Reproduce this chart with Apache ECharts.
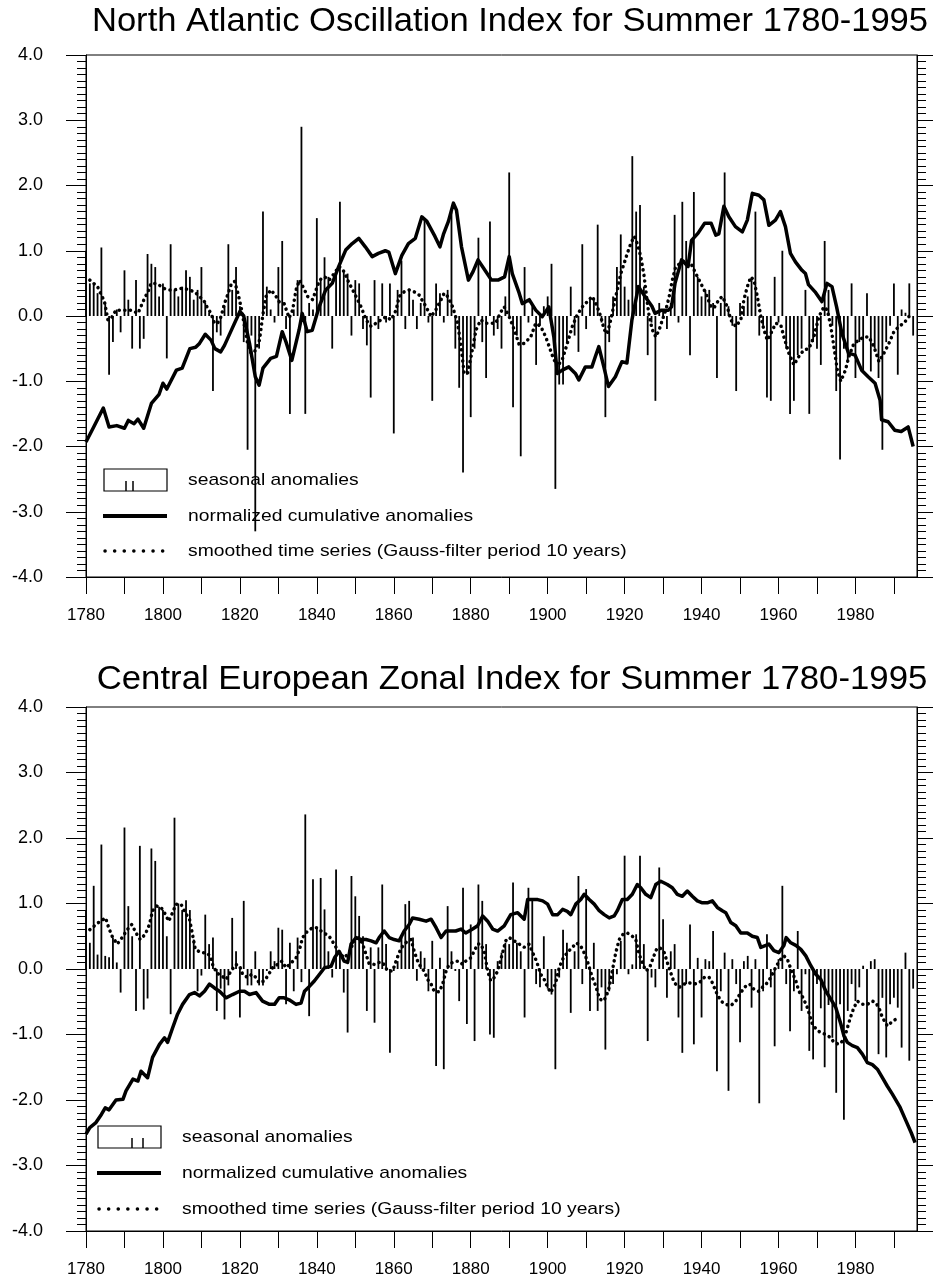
<!DOCTYPE html>
<html>
<head>
<meta charset="utf-8">
<script src="https://cdn.jsdelivr.net/npm/echarts@6/dist/echarts.min.js"></script>
<style>
  html, body { margin: 0; padding: 0; background: #fff; }
  #chart { width: 933px; height: 1286px; }
</style>
</head>
<body>
<div id="chart"></div>
<script>
// ---- data ----
var startYear = 1780
var xTickYears = [1780, 1790, 1800, 1810, 1820, 1830, 1840, 1850, 1860, 1870, 1880, 1890, 1900, 1910, 1920, 1930, 1940, 1950, 1960, 1970, 1980, 1990]
var xLabelYears = [1780, 1800, 1820, 1840, 1860, 1880, 1900, 1920, 1940, 1960, 1980]

// North Atlantic Oscillation, seasonal anomalies 1780..1995
var naoBars = [
  1.0, 0.5, 0.5, 0.35, 1.05, 0.2, -0.9, -0.4, 0.1, -0.25,
  0.7, 0.25, -0.5, 0.55, -0.5, -0.35, 0.95, 0.8, 0.75, 0.3,
  0.5, -0.65, 1.1, 0.4, 0.3, 0.45, 0.7, 0.6, 0.25, 0.4,
  0.75, 0.2, 0.05, -1.15, -0.25, -0.3, 0.15, 1.1, 0.4, 0.75,
  0.15, -0.4, -2.05, -0.3, -3.3, -0.5, 1.6, 0.45, 0.1, -0.1,
  0.75, 1.15, -0.2, -1.5, 0.1, 0.55, 2.9, -1.5, 0.2, 0.1,
  1.5, 0.55, 0.9, 0.6, -0.5, 0.7, 1.75, 0.7, 0.65, -0.3,
  0.55, 0.5, -0.2, -0.45, -1.25, 0.55, -0.2, 0.5, -0.1, 0.5,
  -1.8, 0.4, 0.85, -0.2, 0.4, 0.25, -0.2, 0.2, 1.5, -0.1,
  -1.3, 0.5, 0.35, -0.1, 0.4, 1.6, -0.5, -1.1, -2.4, -0.9,
  -1.55, -0.5, 1.2, -0.4, -0.95, 1.45, -0.3, -0.2, -0.5, 0.3,
  2.2, -1.4, -0.3, -2.15, 0.75, -0.1, 0.15, -0.75, -0.15, 0.15,
  0.3, 0.8, -2.65, -1.05, -1.05, -0.4, 0.45, -0.3, -0.55, 1.1,
  -0.2, 0.25, 0.25, 1.4, -0.1, -1.55, -0.4, 0.3, 0.75, 1.25,
  0.45, 0.25, 2.45, 1.6, 1.7, 0.45, -0.6, -0.1, -1.3, 0.2,
  0.1, -0.2, 0.2, 1.55, -0.1, 1.75, 1.15, -0.6, 1.9, 0.6,
  0.3, 0.4, 0.4, 0.2, -0.95, 0.2, 2.2, 0.15, -0.15, -1.15,
  0.2, 0.15, 0.3, 0.55, 1.6, -0.3, -0.15, -1.25, -1.3, 0.6,
  -0.1, 1.0, -0.5, -1.5, -1.3, -0.6, -0.5, 0.4, -1.5, -0.4,
  -0.5, -0.75, 1.15, 0.4, -0.15, -1.15, -2.2, -0.5, -0.7, 0.5,
  -0.95, -0.4, -0.85, 0.35, -0.85, -0.5, -0.95, -2.05, -0.4, -0.15,
  0.5, -0.9, 0.1, 0.05, 0.5, -0.3
]

// NAO normalized cumulative anomalies [year, value]
var naoCumulative = [
  [1780,-1.93],[1782,-1.7],[1784.5,-1.41],[1786,-1.7],[1788,-1.68],[1790,-1.72],[1791,-1.6],[1792.5,-1.65],
  [1793.5,-1.58],[1795,-1.72],[1797,-1.34],[1799,-1.2],[1800,-1.03],[1801,-1.12],[1803.5,-0.83],[1805,-0.8],
  [1807,-0.5],[1808.5,-0.48],[1809.5,-0.42],[1811,-0.28],[1812.5,-0.37],[1813.5,-0.5],[1815,-0.55],[1816,-0.45],
  [1818,-0.19],[1820,0.07],[1821,0.0],[1822.5,-0.42],[1824,-0.93],[1825,-1.06],[1826,-0.8],[1828,-0.65],
  [1829.5,-0.62],[1831,-0.24],[1832,-0.4],[1833.5,-0.68],[1835.4,-0.21],[1836.2,0.04],[1837.5,-0.24],[1838.8,-0.22],
  [1840.6,0.14],[1842.3,0.4],[1844,0.5],[1845.7,0.76],[1847.5,1.01],[1849.2,1.11],[1850.9,1.19],[1852.6,1.06],
  [1854.4,0.91],[1856,0.96],[1857.8,1.0],[1858.7,0.98],[1860.4,0.65],[1862.1,0.93],[1863.8,1.11],[1865.6,1.19],
  [1867.3,1.52],[1868.6,1.45],[1870.7,1.22],[1872,1.06],[1872.9,1.25],[1874.2,1.45],[1875.5,1.73],[1876.3,1.62],
  [1877.6,1.06],[1879.4,0.55],[1880.6,0.68],[1881.9,0.86],[1883.7,0.7],[1885.4,0.55],[1887.1,0.55],[1888.8,0.6],
  [1890,0.91],[1890.8,0.65],[1892.6,0.35],[1893.4,0.19],[1895.2,0.25],[1896.9,0.09],[1898.6,-0.01],[1900.3,0.14],
  [1901.6,-0.32],[1902.5,-0.88],[1903.8,-0.83],[1905.5,-0.78],[1907.2,-0.88],[1908.1,-0.98],[1909.8,-0.78],[1911.5,-0.78],
  [1912.4,-0.62],[1913.3,-0.47],[1914.6,-0.78],[1915.8,-1.08],[1917.6,-0.93],[1919.3,-0.7],[1920.6,-0.72],[1921.9,-0.06],
  [1923.6,0.45],[1925.3,0.3],[1927.1,0.15],[1927.9,0.04],[1929.6,0.09],[1931.4,0.09],[1932.2,0.14],[1933.1,0.5],
  [1934.8,0.86],[1936.5,0.76],[1937.4,1.16],[1939.1,1.27],[1940.8,1.42],[1942.5,1.42],[1943.7,1.24],[1944.5,1.26],
  [1945.8,1.68],[1947.1,1.52],[1948.8,1.37],[1950.6,1.29],[1951.9,1.47],[1953.2,1.88],[1954.9,1.85],[1956.2,1.78],
  [1957.5,1.39],[1959.2,1.47],[1960.5,1.6],[1961.8,1.37],[1963.1,0.96],[1964.4,0.83],[1966.1,0.7],[1967,0.65],
  [1967.8,0.48],[1969.5,0.37],[1971.3,0.22],[1972.6,0.5],[1973.9,0.45],[1975.1,0.14],[1976.5,-0.27],[1978.2,-0.57],
  [1979.9,-0.6],[1981.6,-0.83],[1983.3,-0.93],[1985.1,-1.03],[1986.4,-1.29],[1986.8,-1.59],[1988.5,-1.62],[1990.2,-1.75],
  [1991.9,-1.77],[1993.7,-1.7],[1995,-2.0]
]

// NAO smoothed series (Gauss filter, 10 years) [year, value]
var naoSmoothed = [
  [1781,0.55],[1783,0.45],[1784.8,0.22],[1785.7,-0.06],[1786.5,-0.04],[1787.8,0.09],[1789.1,0.09],[1790.4,0.09],
  [1791.7,0.09],[1793.5,0.04],[1795.2,0.27],[1796.1,0.37],[1796.9,0.5],[1798.2,0.5],[1799.1,0.47],[1800.4,0.42],
  [1801.7,0.4],[1803,0.4],[1804.3,0.42],[1805.6,0.42],[1806.9,0.4],[1808.2,0.37],[1809.5,0.3],[1810.8,0.22],
  [1811.6,0.12],[1812.5,0.04],[1813.4,-0.11],[1814.2,-0.11],[1815.1,-0.01],[1816,0.19],[1816.8,0.32],[1817.7,0.48],
  [1818.6,0.53],[1819.4,0.37],[1820.3,0.14],[1821.2,-0.16],[1822,-0.42],[1822.9,-0.57],[1823.8,-0.55],[1825.1,-0.37],
  [1825.9,-0.01],[1826.8,0.3],[1828.1,0.4],[1829.4,0.3],[1830.2,0.22],[1831.5,0.19],[1832.8,-0.03],[1833.7,0.09],
  [1834.6,0.4],[1835.5,0.55],[1836.8,0.4],[1837.6,0.3],[1838.9,0.25],[1839.8,0.4],[1840.7,0.55],[1842,0.6],
  [1843.2,0.55],[1844.5,0.65],[1845.8,0.76],[1847.1,0.68],[1848,0.55],[1849.3,0.4],[1850.6,0.25],[1851.5,0.14],
  [1852.8,-0.06],[1854.1,-0.16],[1855.4,-0.11],[1856.7,-0.06],[1858,-0.01],[1859.3,-0.06],[1860.6,0.09],[1861.4,0.3],
  [1862.7,0.37],[1864,0.4],[1865.3,0.37],[1866.6,0.32],[1868.4,0.14],[1869.7,-0.01],[1870.9,0.09],[1872.3,0.25],
  [1873.1,0.35],[1874,0.3],[1875.3,0.14],[1876.6,-0.11],[1877.5,-0.47],[1878.3,-0.88],[1879.2,-0.88],[1880.1,-0.62],
  [1881.4,-0.21],[1882.6,-0.06],[1883.9,-0.11],[1885.2,-0.11],[1886.5,-0.11],[1887.8,0.06],[1888.7,0.14],[1890,-0.01],
  [1891.3,-0.21],[1892.6,-0.44],[1893.9,-0.42],[1895.6,-0.32],[1896.9,-0.11],[1898.2,-0.16],[1899.5,-0.32],[1900.4,-0.47],
  [1901.3,-0.62],[1902.5,-0.78],[1903.9,-0.65],[1905.1,-0.42],[1906.4,-0.16],[1907.7,0.02],[1909,0.14],[1910.3,0.22],
  [1911.6,0.3],[1912.9,0.14],[1913.8,-0.01],[1914.7,-0.21],[1915.5,-0.27],[1916.4,-0.06],[1917.3,0.19],[1918.1,0.4],
  [1919,0.65],[1919.9,0.81],[1920.7,0.96],[1921.6,1.11],[1922.5,1.22],[1923.3,1.11],[1924.2,0.91],[1925.1,0.6],
  [1925.8,0.25],[1926.4,-0.01],[1927.2,-0.21],[1928.1,-0.32],[1929,-0.21],[1929.8,-0.06],[1930.7,0.09],[1931.6,0.3],
  [1932.4,0.55],[1933.3,0.76],[1934.6,0.81],[1935.9,0.86],[1937.2,0.81],[1938.5,0.65],[1939.8,0.5],[1941.1,0.35],
  [1942.4,0.15],[1943.2,0.12],[1944.5,0.25],[1945.4,0.3],[1946.7,0.14],[1947.6,-0.06],[1948.9,-0.16],[1950.2,-0.06],
  [1951,0.25],[1951.9,0.45],[1952.8,0.6],[1953.6,0.55],[1954.5,0.3],[1955.4,-0.01],[1956.2,-0.21],[1957.1,-0.37],
  [1958,-0.27],[1959.3,-0.11],[1960.6,-0.14],[1961.4,-0.32],[1962.7,-0.57],[1964,-0.75],[1965.3,-0.62],[1966.6,-0.52],
  [1967.9,-0.5],[1969.2,-0.32],[1970.5,-0.01],[1971.8,0.14],[1972.7,0.09],[1973.6,-0.16],[1974.4,-0.47],[1975.3,-0.83],
  [1976.2,-1.0],[1977.4,-0.83],[1978.3,-0.62],[1979.6,-0.42],[1980.9,-0.37],[1982.2,-0.32],[1983.5,-0.32],[1984.8,-0.47],
  [1986.1,-0.7],[1987.4,-0.57],[1988.7,-0.42],[1990,-0.24],[1991.3,-0.16],[1992.6,-0.11],[1993.9,-0.01]
]

// Central European Zonal Index, seasonal anomalies 1780..1995
var ceziBars = [
  0.9, 0.4, 1.27, 0.22, 1.9, 0.2, 0.18, 0.48, 0.1, -0.36,
  2.16, 0.96, 0.5, -0.64, 1.88, -0.62, -0.45, 1.84, 1.65, 0.95,
  0.9, 0.5, -0.69, 2.31, 1.0, 0.9, 1.05, 0.9, 0.45, -0.34,
  -0.1, 0.83, 0.38, 0.48, -0.64, -0.3, -0.77, -0.25, 0.78, 0.27,
  -0.74, 1.04, -0.25, -0.25, 0.27, -0.25, -0.25, -0.03, 0.27, 0.12,
  0.63, 0.6, -0.54, 0.4, -0.34, 0.48, -0.2, 2.36, -0.72, 1.37,
  0.63, 1.39, 0.91, 0.27, -0.13, 1.52, 0.27, -0.36, -0.97, 1.42,
  1.11, 0.81, 0.5, -0.64, 0.33, -0.82, 0.33, 1.29, 0.38, -1.28,
  -0.03, 0.12, 0.48, 0.99, 1.04, 0.48, -0.18, 0.27, 0.17, -0.34,
  0.43, -1.48, 0.17, -1.53, 0.96, 0.27, -0.03, -0.49, 1.24, -0.84,
  0.68, -1.1, 1.29, 1.04, 0.38, -1.0, -1.05, 0.12, 0.25, 0.4,
  0.38, 1.32, 0.4, 0.27, -0.74, 1.24, 1.04, -0.23, -0.28, 0.5,
  -0.3, -0.39, -1.53, -0.13, 0.6, 0.4, -0.67, 0.27, 1.42, -0.23,
  1.22, -0.64, 0.4, -0.64, -0.28, -1.23, -0.34, -0.23, -0.08, 0.43,
  1.73, -0.08, 0.07, 0.53, 1.73, 0.38, -1.1, -0.13, -0.28, 1.55,
  0.76, -0.44, 0.27, 0.38, -0.74, -1.28, -0.23, 0.68, -1.15, 0.17,
  -0.74, 0.15, 0.12, 0.58, -1.56, -0.34, 0.25, -1.86, 0.15, -0.23,
  -1.12, 0.12, 0.2, -0.59, 0.15, -2.05, -0.34, 0.53, -0.28, -1.18,
  0.15, 1.27, -0.23, -0.95, -0.34, 0.58, -0.64, -0.08, -1.25, -1.38,
  -0.23, -0.6, -1.5, -0.55, -1.05, -1.89, -0.54, -2.3, -0.64, -0.23,
  -0.49, -0.28, 0.05, -1.4, 0.12, 0.15, -1.3, -0.44, -1.35, -0.54,
  -0.44, -0.59, -1.2, 0.25, -1.4, -0.3
]

// CEZI normalized cumulative anomalies [year, value]
var ceziCumulative = [
  [1780,-2.52],[1781,-2.42],[1782.5,-2.35],[1784,-2.22],[1785,-2.12],[1786,-2.15],[1787.8,-2.0],[1789.6,-1.99],
  [1790.4,-1.86],[1792.2,-1.68],[1793.5,-1.71],[1794.3,-1.56],[1796,-1.66],[1797.3,-1.35],[1799.1,-1.15],[1800.4,-1.05],
  [1801.2,-1.12],[1802.5,-0.9],[1803.8,-0.69],[1805.1,-0.54],[1806.9,-0.39],[1808.2,-0.36],[1809.5,-0.41],[1810.8,-0.34],
  [1812.1,-0.23],[1813.4,-0.29],[1814.7,-0.34],[1816.4,-0.44],[1818.1,-0.39],[1819.9,-0.34],[1821.2,-0.34],[1822.5,-0.39],
  [1824.2,-0.36],[1825.9,-0.49],[1827.7,-0.54],[1829,-0.54],[1830.2,-0.44],[1831.5,-0.44],[1832.8,-0.47],[1834.6,-0.54],
  [1835.9,-0.52],[1836.8,-0.34],[1838,-0.27],[1839.4,-0.18],[1840.7,-0.08],[1842,0.02],[1843.7,0.04],[1844.6,0.17],
  [1845.8,0.27],[1847.1,0.12],[1848,0.1],[1848.9,0.38],[1850.2,0.48],[1851.5,0.45],[1852.8,0.45],[1854.1,0.43],
  [1855.4,0.4],[1856.2,0.48],[1857.5,0.58],[1858.8,0.48],[1860.1,0.45],[1861.4,0.43],[1862.7,0.58],[1864,0.68],
  [1864.9,0.78],[1866.6,0.76],[1868.4,0.73],[1869.7,0.76],[1871,0.63],[1872.3,0.48],[1873.6,0.58],[1874.9,0.58],
  [1876.1,0.58],[1877.5,0.61],[1878.7,0.55],[1880.5,0.61],[1881.8,0.66],[1883.1,0.81],[1884.4,0.73],[1885.7,0.61],
  [1887,0.58],[1888.7,0.66],[1890.4,0.83],[1892.2,0.86],[1893.9,0.76],[1894.8,1.06],[1896.1,1.06],[1897.4,1.06],
  [1898.7,1.04],[1900,0.99],[1901.3,0.83],[1902.6,0.83],[1903.9,0.91],[1905.1,0.88],[1906,0.83],[1907.3,0.99],
  [1908.6,1.06],[1909.5,1.14],[1910.8,1.06],[1912.1,0.99],[1913.4,0.89],[1914.7,0.83],[1916,0.78],[1917.3,0.81],
  [1918.1,0.89],[1919.4,1.06],[1920.7,1.06],[1922,1.14],[1923.3,1.29],[1924.2,1.24],[1925.5,1.14],[1926.8,1.09],
  [1928.1,1.29],[1929.4,1.34],[1931.1,1.29],[1932.4,1.24],[1933.7,1.14],[1935,1.11],[1936.3,1.19],[1937.6,1.11],
  [1938.9,1.04],[1940.2,1.01],[1941.5,1.01],[1942.8,1.04],[1944.1,0.94],[1945.4,0.89],[1946.3,0.86],[1947.6,0.71],
  [1948.9,0.66],[1950.2,0.55],[1951.9,0.55],[1953.2,0.5],[1954.5,0.48],[1955.4,0.33],[1956.7,0.36],[1957.5,0.38],
  [1958.8,0.28],[1960.1,0.25],[1961.4,0.36],[1962,0.48],[1963.2,0.4],[1964.5,0.36],[1965.8,0.3],[1967.1,0.2],
  [1968.4,0.05],[1969.7,-0.08],[1971,-0.16],[1972.3,-0.34],[1973.6,-0.46],[1974.9,-0.59],[1976.2,-0.84],[1977,-1.02],
  [1977.9,-1.12],[1979.2,-1.17],[1980.5,-1.2],[1981.8,-1.3],[1983.1,-1.43],[1984.4,-1.46],[1985.7,-1.53],[1987,-1.66],
  [1988.3,-1.79],[1989.6,-1.91],[1990.4,-1.99],[1991.5,-2.1],[1993,-2.3],[1994.5,-2.5],[1995.5,-2.65]
]

// CEZI smoothed series (Gauss filter, 10 years) [year, value]
var ceziSmoothed = [
  [1781,0.6],[1783,0.7],[1785.1,0.78],[1785.9,0.63],[1786.8,0.5],[1788.1,0.38],[1789.4,0.48],[1790.7,0.6],
  [1791.9,0.68],[1793,0.55],[1794.1,0.45],[1795.4,0.53],[1796.5,0.68],[1797.3,0.89],[1798.4,0.96],[1799.5,0.94],
  [1800.4,0.86],[1801.5,0.73],[1802.5,0.86],[1803.4,0.99],[1804.7,0.99],[1805.8,0.86],[1806.9,0.76],[1807.6,0.55],
  [1808.4,0.3],[1809.9,0.25],[1811.2,0.25],[1812.3,0.2],[1812.9,0.07],[1814,-0.06],[1815.4,-0.11],[1816.4,-0.16],
  [1817.7,-0.03],[1819,0.07],[1819.9,0.05],[1820.7,-0.08],[1822,-0.13],[1823.1,-0.08],[1824.2,-0.13],[1825,-0.21],
  [1826.4,-0.18],[1827.5,-0.08],[1828.5,0.02],[1829.8,0.07],[1830.9,0.12],[1832,0.02],[1833.3,0.09],[1834.6,0.17],
  [1835.5,0.3],[1836.3,0.48],[1837.6,0.58],[1838.9,0.63],[1840,0.63],[1841.1,0.58],[1842.4,0.53],[1843.2,0.5],
  [1844.5,0.38],[1845.8,0.25],[1847.1,0.17],[1848.4,0.25],[1849.7,0.43],[1851,0.48],[1851.9,0.38],[1852.8,0.22],
  [1853.6,0.08],[1854.9,0.07],[1855.8,0.1],[1857.1,0.1],[1858.4,-0.03],[1859.7,-0.03],[1860.6,0.12],[1861.4,0.25],
  [1862.3,0.35],[1863.6,0.43],[1864.5,0.45],[1865.3,0.27],[1866.2,0.12],[1867.1,0.02],[1867.9,-0.03],[1868.8,-0.16],
  [1869.7,-0.23],[1870.5,-0.34],[1871.8,-0.35],[1872.7,-0.23],[1873.6,-0.03],[1874.4,0.07],[1875.3,0.1],[1876.2,0.12],
  [1877,0.12],[1877.9,0.07],[1878.7,0.12],[1880,0.17],[1880.9,0.27],[1881.8,0.38],[1882.6,0.38],[1883.5,0.27],
  [1884.4,-0.03],[1885.2,-0.18],[1886.1,-0.13],[1887,-0.03],[1888.3,0.25],[1889.1,0.43],[1890,0.48],[1891.3,0.43],
  [1892.6,0.38],[1893.9,0.33],[1895.2,0.38],[1896.1,0.25],[1897.1,0.12],[1898.2,-0.08],[1899.1,-0.16],[1900,-0.28],
  [1900.8,-0.36],[1902,-0.23],[1903,0.02],[1903.9,0.15],[1905.1,0.25],[1906.4,0.33],[1907.5,0.4],[1908.6,0.35],
  [1909.7,0.22],[1910.6,0.07],[1911.6,-0.13],[1912.5,-0.26],[1913.4,-0.44],[1914.2,-0.49],[1915.1,-0.44],[1916,-0.28],
  [1916.8,-0.03],[1917.7,0.25],[1918.6,0.45],[1919.6,0.53],[1920.7,0.55],[1922,0.5],[1922.9,0.45],[1923.8,0.22],
  [1924.6,0.1],[1925.5,-0.03],[1926.5,0.02],[1927.4,0.17],[1928.3,0.3],[1929.1,0.33],[1930.3,0.25],[1931.1,0.1],
  [1932,-0.06],[1932.9,-0.21],[1934.2,-0.28],[1935.5,-0.23],[1936.7,-0.21],[1938.1,-0.23],[1939.4,-0.21],[1940.7,-0.13],
  [1941.9,-0.12],[1942.8,-0.21],[1943.7,-0.34],[1945,-0.49],[1946.3,-0.54],[1947.6,-0.56],[1948.9,-0.49],[1950.2,-0.36],
  [1951.5,-0.26],[1952.5,-0.23],[1953.6,-0.31],[1954.8,-0.34],[1955.8,-0.28],[1956.8,-0.23],[1958,-0.13],[1958.8,-0.03],
  [1959.7,0.07],[1960.6,0.15],[1961.4,0.2],[1962.3,0.15],[1963.4,-0.03],[1964.5,-0.18],[1965.3,-0.34],[1966.4,-0.44],
  [1967.5,-0.59],[1968.8,-0.84],[1970.1,-0.94],[1971,-0.97],[1972.3,-1.0],[1973.6,-1.05],[1974.4,-1.12],[1975.7,-1.15],
  [1977,-1.08],[1977.9,-0.9],[1978.7,-0.74],[1979.6,-0.59],[1980.5,-0.49],[1981.8,-0.54],[1983.1,-0.54],[1984.4,-0.49],
  [1985.2,-0.51],[1986.1,-0.59],[1987,-0.74],[1988.3,-0.87],[1989.6,-0.8],[1990.4,-0.77]
]

var titles = [
  'North Atlantic Oscillation Index for Summer 1780-1995',
  'Central European Zonal Index for Summer 1780-1995'
]
var legendTexts = [
  'seasonal anomalies',
  'normalized cumulative anomalies',
  'smoothed time series (Gauss-filter period 10 years)'
]

// ---- chart ----
var FONT = '"Liberation Sans", Arial, Helvetica, sans-serif'

function toPairs(values) {
  return values.map(function (v, i) { return [startYear + i, v] })
}

function makeXAxis(idx) {
  return {
    type: 'value', gridIndex: idx, min: 1780, max: 1996,
    axisLine: { show: true, onZero: false, lineStyle: { color: '#000', width: 1 } },
    axisTick: { show: true, length: 17, customValues: xTickYears, lineStyle: { color: '#000', width: 1 } },
    axisLabel: {
      customValues: xLabelYears, margin: 30, color: '#000', fontFamily: FONT, fontSize: 17,
      formatter: function (v) { return String(v) }
    },
    splitLine: { show: false }
  }
}

function makeYAxis(idx, side) {
  return {
    type: 'value', gridIndex: idx, position: side, min: -4, max: 4, interval: 1,
    axisLine: { show: true, onZero: false, lineStyle: { color: '#000', width: 1 } },
    axisTick: { show: true, length: side === 'left' ? 20 : 16, lineStyle: { color: '#000', width: 1 } },
    minorTick: { show: true, splitNumber: 10, length: 9, lineStyle: { color: '#000', width: 1 } },
    axisLabel: {
      show: side === 'left', margin: 43, color: '#000', fontFamily: FONT, fontSize: 18,
      formatter: function (v) { return v.toFixed(1) }
    },
    splitLine: { show: false }
  }
}

function makeSeries(idx, bars, cumulative, smoothed) {
  return [
    {
      type: 'bar', xAxisIndex: idx, yAxisIndex: idx * 2, data: toPairs(bars),
      barWidth: 1.8, itemStyle: { color: '#000' }, silent: true
    },
    {
      type: 'line', xAxisIndex: idx, yAxisIndex: idx * 2, data: smoothed,
      symbol: 'none', silent: true,
      lineStyle: { color: '#000', width: 3.5, type: [0.1, 5.5], cap: 'round' }
    },
    {
      type: 'line', xAxisIndex: idx, yAxisIndex: idx * 2, data: cumulative,
      symbol: 'none', silent: true,
      lineStyle: { color: '#000', width: 3.5, join: 'round' }
    }
  ]
}

// text that is stretched sideways a little, like the scanned original
function wideText(str, x, y, size, stretch, align) {
  return {
    type: 'text', x: x, y: y, scaleX: stretch, scaleY: 1,
    style: { text: str, x: 0, y: 0, fill: '#000', font: size + 'px ' + FONT,
      align: align, verticalAlign: 'middle', textAlign: align, textVerticalAlign: 'middle' }
  }
}

// legend drawn as plain graphics, one block per panel
function legendBlock(x0, yRows, textX, barXs) {
  var items = []
  items.push({ type: 'rect', shape: { x: x0, y: yRows[0] - 11, width: 63, height: 22 },
    style: { fill: 'none', stroke: '#000', lineWidth: 1.2 } })
  barXs.forEach(function (bx) {
    items.push({ type: 'line', shape: { x1: bx, y1: yRows[0] + 1, x2: bx, y2: yRows[0] + 11 },
      style: { stroke: '#000', lineWidth: 1.5 } })
  })
  items.push({ type: 'line', shape: { x1: x0 - 1, y1: yRows[1], x2: x0 + 63, y2: yRows[1] },
    style: { stroke: '#000', lineWidth: 4 } })
  items.push({ type: 'line', shape: { x1: x0 + 1, y1: yRows[2], x2: x0 + 60, y2: yRows[2] },
    style: { stroke: '#000', lineWidth: 3.5, lineDash: [0.1, 9.5], lineCap: 'round' } })
  legendTexts.forEach(function (t, i) {
    items.push(wideText(t, textX, yRows[i], 17, 1.135, 'left'))
  })
  return items
}

var graphics = []
graphics.push(wideText(titles[0], 510, 22, 33, 1.048, 'center'))
graphics.push(wideText(titles[1], 512, 680, 33, 1.053, 'center'))
graphics = graphics.concat(legendBlock(104, [480, 516, 551], 188, [126, 133]))
graphics = graphics.concat(legendBlock(98, [1137, 1173, 1209], 182, [132, 143]))

var option = {
  animation: false,
  backgroundColor: '#fff',
  grid: [
    { left: 86, top: 55, width: 831, height: 522, show: true, borderColor: '#000', borderWidth: 1 },
    { left: 86, top: 707, width: 831, height: 524, show: true, borderColor: '#000', borderWidth: 1 }
  ],
  xAxis: [makeXAxis(0), makeXAxis(1)],
  yAxis: [makeYAxis(0, 'left'), makeYAxis(0, 'right'), makeYAxis(1, 'left'), makeYAxis(1, 'right')],
  series: makeSeries(0, naoBars, naoCumulative, naoSmoothed)
    .concat(makeSeries(1, ceziBars, ceziCumulative, ceziSmoothed)),
  graphic: graphics
}

var chart = echarts.init(document.getElementById('chart'))
chart.setOption(option)
</script>
</body>
</html>
